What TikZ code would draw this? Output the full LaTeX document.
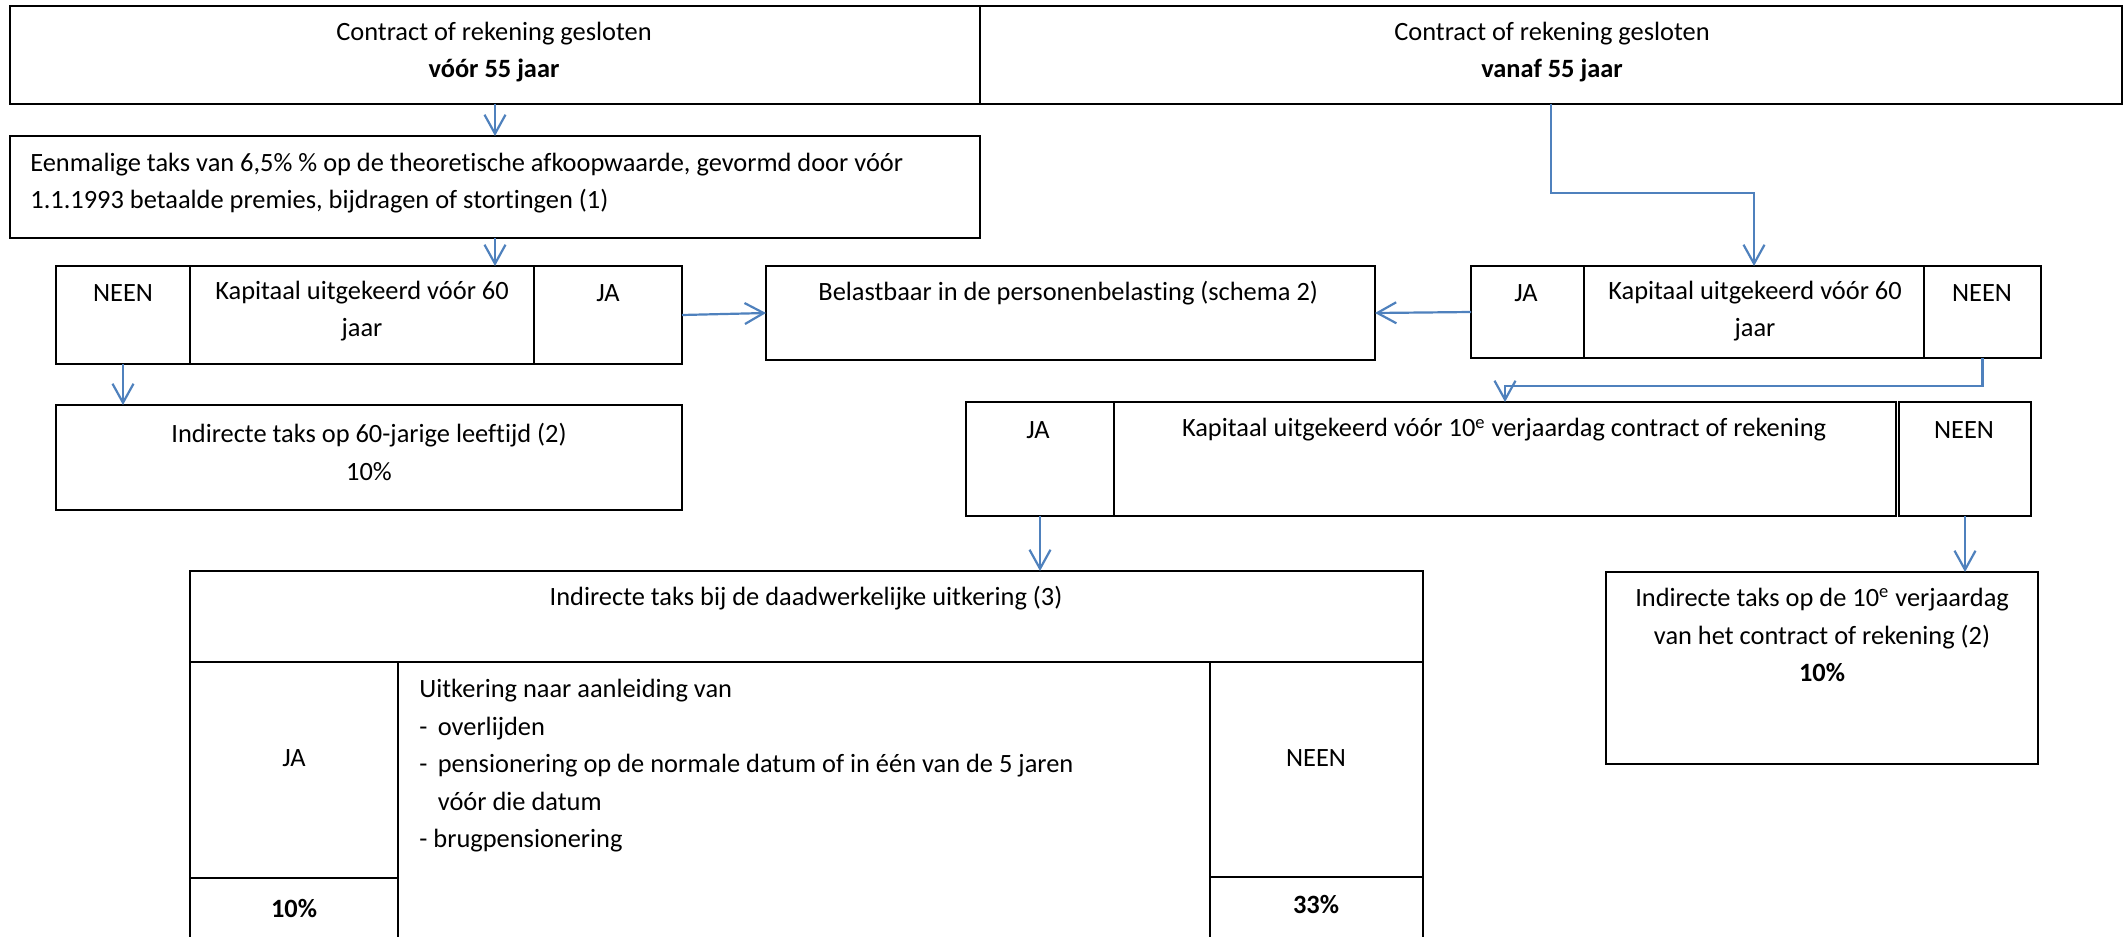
\documentclass[tikz,border=0pt]{standalone}
\usepackage{fontspec}
\setmainfont{Carlito}[Ligatures=NoCommon]
\usetikzlibrary{arrows.meta}
\definecolor{linkblue}{RGB}{79,129,189}

\begin{document}
\begin{tikzpicture}[x=0.5pt,y=-0.5pt,
    cell/.style 2 args={draw,line width=0.7pt,inner sep=0pt,outer sep=0pt,minimum width=#1*0.5pt,minimum height=#2*0.5pt},
    txt/.style={inner sep=0pt,font=\fontsize{13.2pt}{18.75pt}\selectfont,align=center},
    link/.style={draw=linkblue,line width=1.1pt,-{Straight Barb[length=9.5pt,width=10.5pt]}}]

    \useasboundingbox (0,0) rectangle (2123,936);

    % top row
    \node[cell={970}{98}] (tl) at (495,55) {};
    \node[cell={1142}{98}] (tr) at (1551,55) {};
    \node[txt] (tltxt) at (494,52) {Contract of rekening gesloten\\\textbf{vóór 55 jaar}};
    \node[txt] (trtxt) at (1552,52) {Contract of rekening gesloten\\\textbf{vanaf 55 jaar}};

    \node[cell={970}{102}] (een) at (495,187) {};
    \node[txt,align=left,anchor=west] (eentxt) at (30,183) {Eenmalige taks van 6,5\% \% op de theoretische afkoopwaarde, gevormd door vóór\\1.1.1993 betaalde premies, bijdragen of stortingen (1)};

    % left: kapitaal voor 60
    \node[cell={134}{98}] (lneen) at (123,315) {};
    \node[cell={344}{98}] (lkap) at (362,315) {};
    \node[cell={148}{98}] (lja) at (608,315) {};
    \node[txt] at (123,293) {NEEN};
    \node[txt] at (362,311) {Kapitaal uitgekeerd vóór 60\\jaar};
    \node[txt] at (608,293) {JA};

    \node[cell={609}{94}] (bel) at (1070.5,313) {};
    \node[txt,anchor=west] at (818,293) {Belastbaar in de personenbelasting (schema 2)};

    % right: kapitaal voor 60
    \node[cell={113}{92}] (rja) at (1527.5,312) {};
    \node[cell={340}{92}] (rkap) at (1754,312) {};
    \node[cell={117}{92}] (rneen) at (1982.5,312) {};
    \node[txt] at (1526,293) {JA};
    \node[txt] at (1755,311) {Kapitaal uitgekeerd vóór 60\\jaar};
    \node[txt] at (1982,293) {NEEN};

    \node[cell={626}{105}] (ind60) at (369,457.5) {};
    \node[txt] at (369,452) {Indirecte taks op 60-jarige leeftijd (2)\\10\%};

    % 10e verjaardag
    \node[cell={148}{114}] (ja10) at (1040,459) {};
    \node[cell={782}{114}] (kap10) at (1505,459) {};
    \node[cell={132}{114}] (neen10) at (1965,459) {};
    \node[txt] at (1038,430) {JA};
    \node[txt] at (1504,430) {Kapitaal uitgekeerd vóór 10\textsuperscript{e} verjaardag contract of rekening};
    \node[txt] at (1964,430) {NEEN};

    % daadwerkelijke uitkering
    \node[cell={1233}{91}] (hdr) at (806.5,616.5) {};
    \node[cell={208}{216}] (jacol) at (294,770) {};
    \node[cell={208}{62}] (japct) at (294,909) {};
    \node[cell={812}{278}] (mid) at (804,801) {};
    \node[cell={213}{215}] (neencol) at (1316.5,769.5) {};
    \node[cell={213}{63}] (neenpct) at (1316.5,908.5) {};
    \node[txt] at (806,598) {Indirecte taks bij de daadwerkelijke uitkering (3)};
    \node[txt] at (294,758) {JA};
    \node[txt] at (294,908) {\textbf{10\%}};
    \node[txt] at (1316,758) {NEEN};
    \node[txt] at (1316,904) {\textbf{33\%}};
    \node[txt,align=left,anchor=west] at (419,766) {Uitkering naar aanleiding van\\
        \makebox[0.7em][l]{-}overlijden\\
        \makebox[0.7em][l]{-}pensionering op de normale datum of in één van de 5 jaren\\
        \hspace*{0.7em}vóór die datum\\
        - brugpensionering};

    \node[cell={432}{192}] (ind10) at (1822,668) {};
    \node[txt] at (1822,635) {Indirecte taks op de 10\textsuperscript{e} verjaardag\\van het contract of rekening (2)\\\textbf{10\%}};

    % arrows
    \draw[link] (tl.south) -- (een.north);
    \draw[link] (een.south) -- (een.south |- lkap.north);
    \draw[link] (lja.east) -- (bel.west);
    \draw[link] (lneen.south) -- (lneen.south |- ind60.north);
    \draw[link] (tr.south) -- (tr.south |- 0,193) -| (rkap.north);
    \draw[link] (rja.west) -- (bel.east);
    \draw[link] (rneen.south) -- (rneen.south |- 0,386) -| (kap10.north);
    \draw[link] (ja10.south) -- (ja10.south |- hdr.north);
    \draw[link] (neen10.south) -- (neen10.south |- ind10.north);
\end{tikzpicture}
\end{document}
